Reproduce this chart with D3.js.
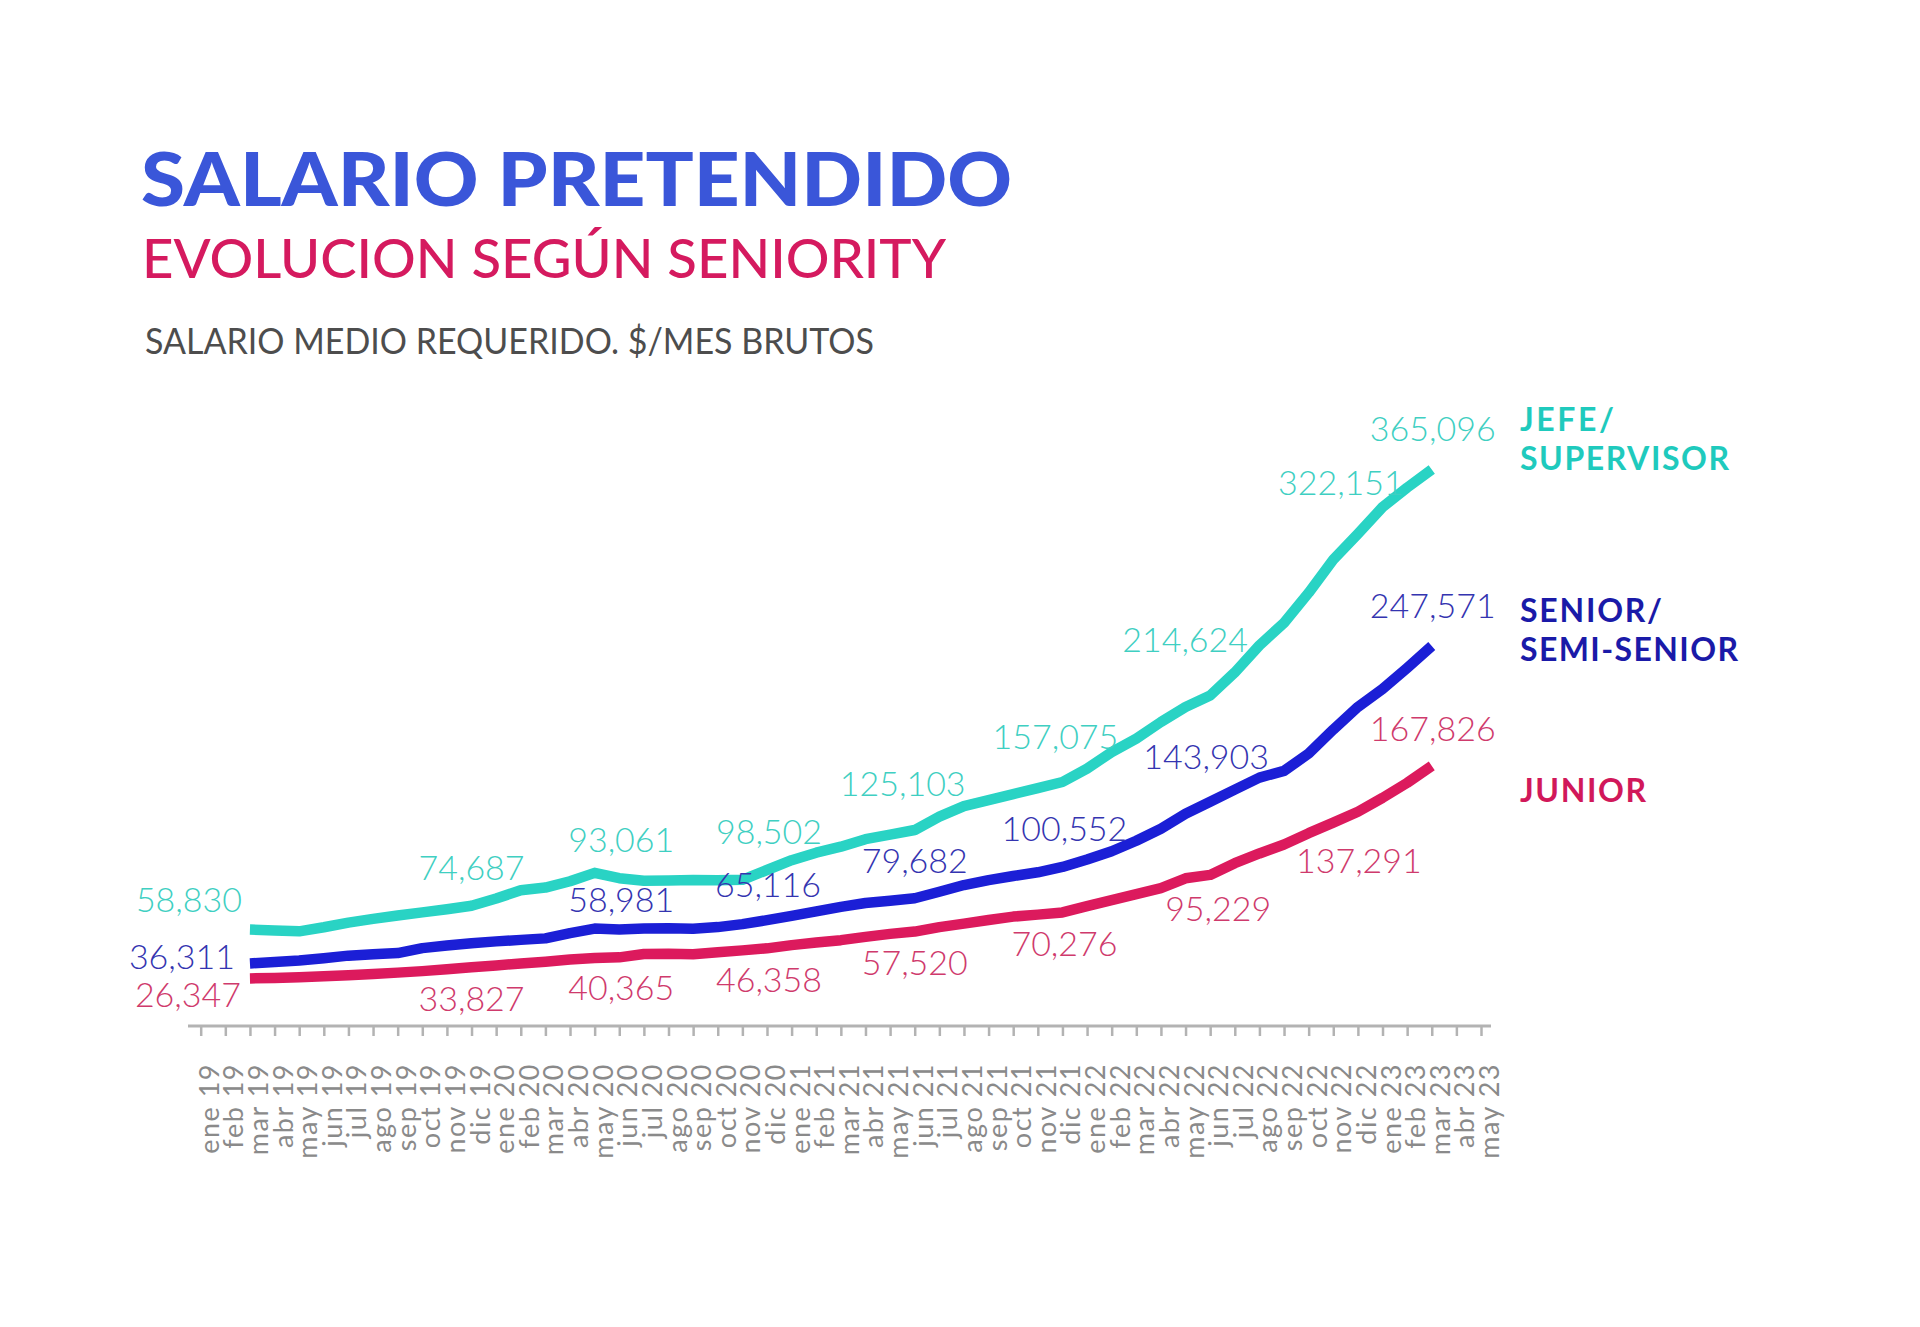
<!DOCTYPE html>
<html>
<head>
<meta charset="utf-8">
<script src="https://cdn.jsdelivr.net/npm/d3@7"></script>
<style>
  html, body { margin: 0; padding: 0; background: #ffffff; }
  svg { display: block; }
</style>
</head>
<body>
<svg id="chart" width="1920" height="1327"></svg>
<script>
// ---------------- DATA ----------------
const months = [
  "ene 19","feb 19","mar 19","abr 19","may 19","jun 19","jul 19","ago 19","sep 19","oct 19","nov 19","dic 19",
  "ene 20","feb 20","mar 20","abr 20","may 20","jun 20","jul 20","ago 20","sep 20","oct 20","nov 20","dic 20",
  "ene 21","feb 21","mar 21","abr 21","may 21","jun 21","jul 21","ago 21","sep 21","oct 21","nov 21","dic 21",
  "ene 22","feb 22","mar 22","abr 22","may 22","jun 22","jul 22","ago 22","sep 22","oct 22","nov 22","dic 22",
  "ene 23","feb 23","mar 23","abr 23","may 23"
];
// months covered by the series (mar 19 .. mar 23)
const seriesMonths = months.slice(2, 51);

const jefe = [
  58830, 58300, 57700, 60400, 63500, 66000, 68200, 70300, 72400, 74687,
  79500, 85000, 86800, 91000, 96600, 93061, 91400, 91500, 91800, 91600,
  92000, 98502, 105000, 110000, 114000, 119000, 122000, 125103, 134000, 141000,
  145000, 149000, 153000, 157075, 166000, 177000, 186000, 197000, 207000, 214624,
  230000, 248000, 263000, 283000, 305000, 322151, 340000, 353000, 365096
];
const senior = [
  36311, 37200, 38300, 39800, 41500, 42500, 43200, 46500, 48200, 49800,
  51000, 52000, 53000, 56500, 59500, 58981, 59600, 59800, 59400, 60500,
  62500, 65116, 68000, 71000, 74000, 76500, 78000, 79682, 84000, 88500,
  91800, 94500, 97000, 100552, 105500, 111000, 118000, 126000, 136000, 143903,
  152000, 160000, 164500, 176000, 192000, 207000, 219000, 233000, 247571
];
const junior = [
  26347, 26700, 27200, 27800, 28400, 29300, 30200, 31200, 32500, 33827,
  35000, 36300, 37500, 39000, 39900, 40365, 42600, 42800, 42500, 43800,
  45000, 46358, 48500, 50200, 51800, 54000, 56000, 57520, 60500, 62800,
  65200, 67500, 68800, 70276, 74500, 78500, 82500, 86500, 93000, 95229,
  103000, 109500, 115500, 123000, 130000, 137291, 146500, 156500, 167826
];

const seriesKeys = ["jefe", "senior", "junior"];
const seriesNames = [["JEFE/", "SUPERVISOR"], ["SENIOR/", "SEMI-SENIOR"], ["JUNIOR"]];
// indices (within the series) that carry a value label
const jefeLabelIdx   = [0, 9, 15, 21, 27, 33, 39, 45, 48];
const seniorLabelIdx = [0, 15, 21, 27, 33, 39, 48];
const juniorLabelIdx = [0, 9, 15, 21, 27, 33, 39, 45, 48];

const titleText = "SALARIO PRETENDIDO";
const subtitleText = "EVOLUCION SEGÚN SENIORITY";
const noteText = "SALARIO MEDIO REQUERIDO. $/MES BRUTOS";

// ---------------- LAYOUT / STYLE ----------------
const W = 1920, H = 1327;
const svg = d3.select("#chart");
svg.append("rect").attr("width", W).attr("height", H).attr("fill", "#ffffff");

const styles = {
  jefe:   { line: "#29d3c4", label: "#3fcfc2", name: "#1fcabd" },
  senior: { line: "#1b1fd6", label: "#3434b0", name: "#1a1aa8" },
  junior: { line: "#dc1a5d", label: "#cf3a6c", name: "#d1185a" }
};

// label offsets relative to the point: [dx, dy, anchor]
const labelOffsets = {
  jefe:   [[-8,-18,"end"],[0,-26,"middle"],[2,-26,"middle"],[2,-26,"middle"],[-12,-34,"middle"],[-7,-33,"middle"],[-25,-44,"middle"],[-17,-39,"middle"],[1,-28,"middle"]],
  senior: [[-15,6,"end"],[2,-17,"middle"],[1,-23,"middle"],[0,-25,"middle"],[2,-26,"middle"],[-4,-33,"middle"],[1,-28,"middle"]],
  junior: [[-9,29,"end"],[0,44,"middle"],[2,43,"middle"],[2,44,"middle"],[0,43,"middle"],[2,44,"middle"],[8,46,"middle"],[1,61,"middle"],[1,-25,"middle"]]
};

const x = d3.scalePoint().domain(months).range([200.7, 1481]);
const y = d3.scaleLinear().domain([0, 400000]).range([1018, 417]);

// ---------------- TITLES ----------------
svg.append("text")
  .attr("x", 141).attr("y", 206)
  .attr("font-family", "Lato, 'Open Sans', sans-serif")
  .attr("font-weight", 900)
  .attr("font-size", 75)
  .attr("fill", "#3a56d9")
  .attr("textLength", 871)
  .attr("lengthAdjust", "spacingAndGlyphs")
  .text(titleText);

svg.append("text")
  .attr("x", 142).attr("y", 278)
  .attr("font-family", "Lato, 'Open Sans', sans-serif")
  .attr("font-weight", 500)
  .attr("font-size", 54)
  .attr("fill", "#d51a5f")
  .attr("textLength", 804)
  .attr("lengthAdjust", "spacingAndGlyphs")
  .text(subtitleText);

svg.append("text")
  .attr("x", 145).attr("y", 354)
  .attr("font-family", "Lato, 'Open Sans', sans-serif")
  .attr("font-weight", 400)
  .attr("font-size", 36)
  .attr("fill", "#4d4d4d")
  .attr("textLength", 729)
  .attr("lengthAdjust", "spacingAndGlyphs")
  .text(noteText);

// ---------------- AXIS ----------------
const axisY = 1026;
const axis = d3.axisBottom(x).tickSize(10).tickFormat("");
const gAxis = svg.append("g").attr("transform", `translate(0,${axisY})`).call(axis);
gAxis.select(".domain").attr("d", `M188,0H1491`).attr("stroke", "#b3b3b3").attr("stroke-width", 3);
gAxis.selectAll(".tick line").attr("stroke", "#b3b3b3").attr("stroke-width", 2.5);

svg.append("g").selectAll("text")
  .data(months)
  .join("text")
  .attr("transform", d => `translate(${x(d) + 18},${1063}) rotate(-90)`)
  .attr("text-anchor", "end")
  .attr("font-family", "Lato, 'Open Sans', sans-serif")
  .attr("font-weight", 400)
  .attr("font-size", 27)
  .attr("letter-spacing", 1.5)
  .attr("fill", "#8a8a8a")
  .text(d => d);

// ---------------- LINES ----------------
const seriesData = { jefe, senior, junior };
const labelIdx = { jefe: jefeLabelIdx, senior: seniorLabelIdx, junior: juniorLabelIdx };

const line = d3.line()
  .x((d, i) => x(seriesMonths[i]))
  .y(d => y(d));

const fmt = d3.format(",");

seriesKeys.forEach(key => {
  svg.append("path")
    .datum(seriesData[key])
    .attr("d", line)
    .attr("fill", "none")
    .attr("stroke", styles[key].line)
    .attr("stroke-width", 10.5)
    .attr("stroke-linejoin", "round")
    .attr("stroke-linecap", "butt");
});

seriesKeys.forEach(key => {
  const vals = seriesData[key];
  const offs = labelOffsets[key];
  svg.append("g").selectAll("text")
    .data(labelIdx[key])
    .join("text")
    .attr("x", (idx, j) => x(seriesMonths[idx]) + offs[j][0])
    .attr("y", (idx, j) => y(vals[idx]) + offs[j][1])
    .attr("text-anchor", (idx, j) => offs[j][2])
    .attr("font-family", "Lato, 'Open Sans', sans-serif")
    .attr("font-weight", 300)
    .attr("font-size", 34)
    .attr("fill", styles[key].label)
    .text(idx => fmt(vals[idx]));
});

// ---------------- SERIES NAMES ----------------
const namePos = { jefe: [431, 470], senior: [622, 661], junior: [802] };
const nameLen = { jefe: [94, 209], senior: [142, 218], junior: [126] };
seriesKeys.forEach((key, k) => {
  seriesNames[k].forEach((txt, j) => {
    svg.append("text")
      .attr("x", 1520)
      .attr("y", namePos[key][j])
      .attr("font-family", "Lato, 'Open Sans', sans-serif")
      .attr("font-weight", 700)
      .attr("font-size", 32)
      .attr("fill", styles[key].name)
      .attr("textLength", nameLen[key][j])
      .attr("lengthAdjust", "spacing")
      .text(txt);
  });
});
</script>
</body>
</html>
